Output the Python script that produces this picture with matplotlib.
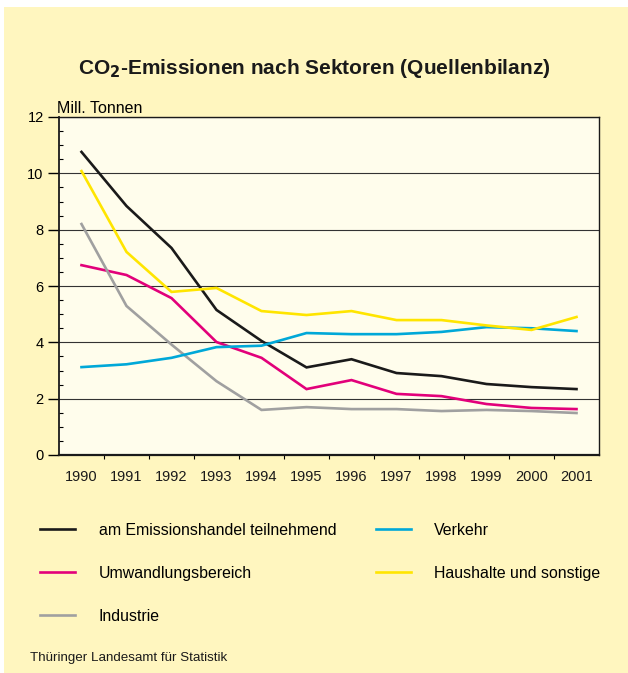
import numpy as np
import matplotlib.pyplot as plt
from matplotlib.patches import Rectangle
from matplotlib.ticker import MultipleLocator, FixedLocator

plt.rcParams['font.family'] = ['Liberation Sans', 'DejaVu Sans']

years = ['1990', '1991', '1992', '1993', '1994', '1995', '1996', '1997', '1998', '1999', '2000', '2001']

emissionshandel = [10.76, 8.84, 7.35, 5.15, 4.05, 3.11, 3.40, 2.91, 2.80, 2.52, 2.41, 2.34]
umwandlung = [6.74, 6.39, 5.57, 4.01, 3.45, 2.34, 2.66, 2.17, 2.09, 1.81, 1.67, 1.63]
industrie = [8.20, 5.29, 3.92, 2.62, 1.60, 1.70, 1.63, 1.63, 1.56, 1.60, 1.56, 1.49]
verkehr = [3.12, 3.22, 3.45, 3.83, 3.88, 4.33, 4.29, 4.29, 4.37, 4.54, 4.50, 4.40]
haushalte = [10.08, 7.21, 5.79, 5.93, 5.11, 4.97, 5.11, 4.79, 4.79, 4.60, 4.44, 4.90]

series = [
    ('am Emissionshandel teilnehmend', emissionshandel, '#1a1a1a'),
    ('Umwandlungsbereich', umwandlung, '#e2007a'),
    ('Industrie', industrie, '#a0a0a0'),
    ('Verkehr', verkehr, '#00a8d8'),
    ('Haushalte und sonstige', haushalte, '#ffe500'),
]

W, H = 628, 673
fig = plt.figure(figsize=(W / 100, H / 100), dpi=100, facecolor='white')
# yellow background with thin white margin at top/left
fig.patches.append(Rectangle((4 / W, 0), 1 - 4 / W, 1 - 7 / H, transform=fig.transFigure,
                             facecolor='#fff6bf', edgecolor='none', zorder=-10))

ax = fig.add_axes([59 / W, 1 - 455 / H, 540 / W, 338 / H])
ax.set_facecolor('#fffdec')

x = np.arange(len(years))
for name, vals, col in series:
    ax.plot(x, vals, color=col, lw=1.9, label=name, solid_joinstyle='miter', zorder=3)

ax.set_xlim(-0.5, len(years) - 0.5)
ax.set_ylim(0, 12)
ax.set_xticks(x)
ax.set_xticklabels(years, fontsize=10.5)
ax.xaxis.set_minor_locator(FixedLocator(np.arange(0.5, len(years) - 1, 1)))
ax.tick_params(axis='x', which='major', length=0, pad=11, colors='#1a1a1a')
ax.tick_params(axis='x', which='minor', length=3, width=0.8, direction='out')
ax.yaxis.set_major_locator(MultipleLocator(2))
ax.yaxis.set_minor_locator(MultipleLocator(0.5))
ax.tick_params(axis='y', which='major', length=8, width=1, direction='out', labelsize=10.5, pad=3)
ax.tick_params(axis='y', which='minor', length=3, width=0.8, direction='in')
ax.grid(axis='y', which='major', color='#333333', lw=0.8, zorder=1)
for s in ax.spines.values():
    s.set_color('#1a1a1a')
    s.set_linewidth(1.0)
ax.spines['bottom'].set_linewidth(1.6)
ax.spines['left'].set_linewidth(1.3)

ax.text(-0.003, 1.004, 'Mill. Tonnen', transform=ax.transAxes, fontsize=11.5, ha='left', va='bottom')

fig.text(314 / W, 1 - 68 / H, r'CO$_\mathbf{2}$-Emissionen nach Sektoren (Quellenbilanz)',
         fontsize=15, fontweight='bold', ha='center', va='center', color='#1a1a1a')

handles, labels = ax.get_legend_handles_labels()
fig.legend(handles, labels, ncol=2, loc='upper left', bbox_to_anchor=(40 / W, 1 - 523 / H),
           frameon=False, fontsize=11.4, handlelength=2.2, handletextpad=1.5,
           labelspacing=1.76, columnspacing=2.5, borderpad=0, borderaxespad=0)

fig.text(30 / W, 1 - 658 / H, 'Thüringer Landesamt für Statistik', fontsize=9.6,
         ha='left', va='center', color='#1a1a1a')

fig.savefig('out.png', dpi=100, facecolor=fig.get_facecolor())
